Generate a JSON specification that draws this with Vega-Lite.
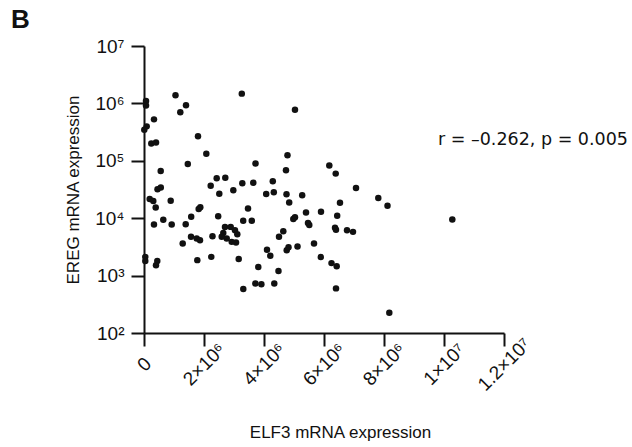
{
  "$schema": "https://vega.github.io/schema/vega-lite/v6.json",
  "width": 360,
  "height": 287,
  "autosize": {"type": "none"},
  "padding": {"left": 144, "top": 46, "right": 128, "bottom": 114},
  "background": "white",
  "title": {"text": "B", "anchor": "start", "frame": "group", "dx": -133, "offset": 4, "fontSize": 26, "fontWeight": "bold", "font": "Liberation Sans", "color": "#111"},
  "config": {
    "view": {"stroke": null},
    "axis": {"grid": false, "domainColor": "#111", "tickColor": "#111", "domainWidth": 2, "tickWidth": 2, "tickSize": 13, "labelFont": "Liberation Sans", "titleFont": "Liberation Sans", "labelColor": "#111", "titleColor": "#111", "titleFontWeight": "normal"}
  },
  "datasets": {
    "pts": [
      {"x": 67000, "y": 1100000}, {"x": 67000, "y": 920000}, {"x": 1050000, "y": 1390000}, {"x": 1400000, "y": 930000},
      {"x": 1210000, "y": 700000}, {"x": 333000, "y": 527000}, {"x": 90000, "y": 398000}, {"x": 10000, "y": 349000},
      {"x": 243000, "y": 201000}, {"x": 400000, "y": 208000}, {"x": 1800000, "y": 267000}, {"x": 2077000, "y": 133000},
      {"x": 1460000, "y": 88000}, {"x": 557000, "y": 66500}, {"x": 450000, "y": 31900}, {"x": 560000, "y": 34200},
      {"x": 190000, "y": 21700}, {"x": 310000, "y": 20000}, {"x": 390000, "y": 15300}, {"x": 890000, "y": 20100},
      {"x": 2423000, "y": 49700}, {"x": 2710000, "y": 50600}, {"x": 2223000, "y": 36700}, {"x": 2510000, "y": 26700},
      {"x": 2977000, "y": 30700}, {"x": 3260000, "y": 1480000}, {"x": 3717000, "y": 89700}, {"x": 3277000, "y": 40600},
      {"x": 3643000, "y": 41400}, {"x": 4073000, "y": 26400}, {"x": 4327000, "y": 28300}, {"x": 4293000, "y": 44000},
      {"x": 4783000, "y": 125000}, {"x": 4733000, "y": 68400}, {"x": 4750000, "y": 26100}, {"x": 4840000, "y": 18800},
      {"x": 5273000, "y": 25100}, {"x": 5033000, "y": 776000}, {"x": 6177000, "y": 82600}, {"x": 6390000, "y": 59800},
      {"x": 7067000, "y": 33700}, {"x": 6533000, "y": 18500}, {"x": 7810000, "y": 22400}, {"x": 8117000, "y": 16500},
      {"x": 3467000, "y": 14800}, {"x": 1877000, "y": 15500}, {"x": 1823000, "y": 14500}, {"x": 1573000, "y": 10600},
      {"x": 643000, "y": 9420}, {"x": 2473000, "y": 10800}, {"x": 3307000, "y": 9060}, {"x": 3593000, "y": 9060},
      {"x": 5400000, "y": 12600}, {"x": 5900000, "y": 13000}, {"x": 4977000, "y": 9680}, {"x": 5033000, "y": 10400},
      {"x": 5467000, "y": 8260}, {"x": 5510000, "y": 7620}, {"x": 6440000, "y": 11000}, {"x": 6367000, "y": 6840},
      {"x": 6400000, "y": 6310}, {"x": 6767000, "y": 6140}, {"x": 6967000, "y": 5780}, {"x": 10277000, "y": 9480},
      {"x": 333000, "y": 7760}, {"x": 923000, "y": 7760}, {"x": 1390000, "y": 7870}, {"x": 1567000, "y": 4730},
      {"x": 1757000, "y": 4440}, {"x": 1867000, "y": 4140}, {"x": 1290000, "y": 3630}, {"x": 2283000, "y": 4860},
      {"x": 2700000, "y": 7060}, {"x": 2890000, "y": 7060}, {"x": 3033000, "y": 6180}, {"x": 3110000, "y": 5270},
      {"x": 2643000, "y": 5550}, {"x": 2757000, "y": 4440}, {"x": 2923000, "y": 3870}, {"x": 3067000, "y": 3780},
      {"x": 2590000, "y": 4760}, {"x": 3157000, "y": 1940}, {"x": 2243000, "y": 2120}, {"x": 1777000, "y": 1860},
      {"x": 43000, "y": 2120}, {"x": 43000, "y": 1790}, {"x": 443000, "y": 1790}, {"x": 400000, "y": 1520},
      {"x": 4100000, "y": 2810}, {"x": 4210000, "y": 2210}, {"x": 4500000, "y": 4730}, {"x": 4643000, "y": 5940},
      {"x": 4757000, "y": 2770}, {"x": 4817000, "y": 3130}, {"x": 5117000, "y": 3220}, {"x": 5667000, "y": 3630},
      {"x": 5893000, "y": 2100}, {"x": 6250000, "y": 1650}, {"x": 6423000, "y": 1460}, {"x": 3810000, "y": 1410},
      {"x": 4483000, "y": 1200}, {"x": 3713000, "y": 731}, {"x": 3913000, "y": 706}, {"x": 4343000, "y": 731},
      {"x": 3310000, "y": 582}, {"x": 6400000, "y": 599}, {"x": 8177000, "y": 225}
    ],
    "note": [{"x": 9800000, "y": 228000, "label": "r = –0.262, p = 0.005"}]
  },
  "layer": [
    {
      "data": {"name": "pts"},
      "mark": {"type": "circle", "size": 42, "opacity": 1, "color": "#111"},
      "encoding": {
        "x": {"field": "x", "type": "quantitative",
          "scale": {"domain": [0, 12000000], "nice": false, "zero": false},
          "axis": {"values": [0, 2000000, 4000000, 6000000, 8000000, 10000000, 12000000],
            "labelExpr": "datum.value == 0 ? '0' : datum.value == 2000000 ? '2×10⁶' : datum.value == 4000000 ? '4×10⁶' : datum.value == 6000000 ? '6×10⁶' : datum.value == 8000000 ? '8×10⁶' : datum.value == 10000000 ? '1×10⁷' : '1.2×10⁷'",
            "labelAngle": -45, "labelAlign": "center", "labelBaseline": "middle", "labelFontSize": 19, "labelPadding": 18, "labelOffset": 0, "labelOverlap": false, "labelFlush": false,
            "title": "ELF3 mRNA expression", "titleFontSize": 17, "titleBaseline": "alphabetic", "titleY": 104, "titleX": 196}
        },
        "y": {"field": "y", "type": "quantitative",
          "scale": {"type": "log", "domain": [100, 10000000], "nice": false},
          "axis": {"values": [100, 1000, 10000, 100000, 1000000, 10000000],
            "labelExpr": "datum.value == 100 ? '10²' : datum.value == 1000 ? '10³' : datum.value == 10000 ? '10⁴' : datum.value == 100000 ? '10⁵' : datum.value == 1000000 ? '10⁶' : '10⁷'",
            "labelFontSize": 19, "labelPadding": 7, "labelOverlap": false, "labelFlush": false,
            "title": "EREG mRNA expression", "titleFontSize": 17, "titlePadding": 12}
        }
      }
    },
    {
      "data": {"name": "note"},
      "mark": {"type": "text", "align": "left", "baseline": "middle", "fontSize": 17.5, "font": "DejaVu Sans", "color": "#111", "clip": false},
      "encoding": {
        "x": {"field": "x", "type": "quantitative"},
        "y": {"field": "y", "type": "quantitative"},
        "text": {"field": "label"}
      }
    }
  ]
}
